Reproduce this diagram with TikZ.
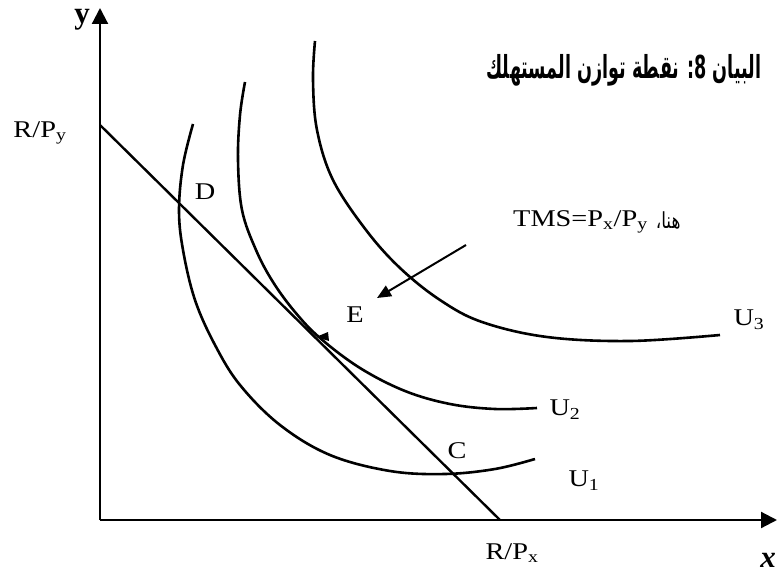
\documentclass[tikz,border=0pt]{standalone}
\usepackage{fontspec}
\setmainfont{Liberation Serif}
\newfontfamily\arabicfont[Script=Arabic]{DejaVu Sans}
\TeXXeTstate=1
\usetikzlibrary{arrows.meta}
\newcommand{\wide}[1]{\scalebox{1.18}[1]{#1}}
\begin{document}
\begin{tikzpicture}[x=1pt,y=-1pt,
  curve/.style={line width=2.6pt},
  axis/.style={line width=2.2pt,-{Triangle[length=16pt,width=16pt]}},
  lbl/.style={font=\fontsize{24}{28}\selectfont,inner sep=0pt},
  axlbl/.style={font=\fontsize{31}{34}\selectfont,inner sep=0pt},
  pointer/.style={line width=2pt,-{Triangle[length=14pt,width=12pt]}}]
\useasboundingbox (0,0) rectangle (777,578);
% axes
\coordinate (O) at (100,520);
\coordinate (ytop) at (100,8);
\coordinate (xend) at (777,520);
\draw[axis] (O) -- (ytop);
\draw[axis] (O) -- (xend);
% budget line
\coordinate (B1) at (100,125);
\coordinate (B2) at (500,520);
\draw[line width=2.4pt] (B1) -- (B2);
% indifference curves
\draw[curve] plot[smooth,tension=0.6] coordinates {(193,124) (183,165) (179,210) (183,250) (195,300) (215,345) (240,385) (280,425) (330,455) (390,471) (445,474) (495,469) (535,459)};
\draw[curve] plot[smooth,tension=0.6] coordinates {(245,82) (240,115) (238,160) (242,210) (256,250) (273,282) (295,312) (320,338) (360,368) (405,391) (450,404) (495,409) (537,408)};
\draw[curve] plot[smooth,tension=0.6] coordinates {(315,41) (313,80) (317,130) (333,180) (366,230) (400,268) (440,300) (482,322) (547,337) (630,341) (720,335)};
% small mark at tangency
\fill (328,332) -- (329,341) -- (316,337) -- cycle;
% pointer arrow
\coordinate (pa) at (466,245);
\coordinate (pb) at (377,298);
\draw[pointer] (pa) -- (pb);
% labels
\node[axlbl] (ly) at (82,20) {\textbf{y}};
\node[axlbl] (lx) at (768,560) {\textbf{\textit{x}}};
\node[lbl] (rpy) at (40,133) {\wide{R/P\textsubscript{y}}};
\node[lbl] (rpx) at (512,553) {\wide{R/P\textsubscript{x}}};
\node[lbl] (D) at (205,192) {\wide{D}};
\node[lbl] (E) at (355,315) {\wide{E}};
\node[lbl] (C) at (457,451) {\wide{C}};
\node[lbl] (U3) at (749,320) {\wide{U\textsubscript{3}}};
\node[lbl] (U2) at (565,410) {\wide{U\textsubscript{2}}};
\node[lbl] (U1) at (584,481) {\wide{U\textsubscript{1}}};
\node[lbl,anchor=west] (tms) at (513,222) {\wide{TMS=P\textsubscript{x}/P\textsubscript{y}}\hspace{8pt}\raisebox{-2pt}{\scalebox{1}[1.3]{\arabicfont\fontsize{17}{19}\selectfont\beginR هنا،\endR}}};
\node[inner sep=0pt] (title) at (624,70) {\scalebox{1}[1.8]{\resizebox{275pt}{!}{\arabicfont\bfseries\fontsize{20}{24}\selectfont\beginR البيان 8: نقطة توازن المستهلك\endR}}};
\end{tikzpicture}
\end{document}
